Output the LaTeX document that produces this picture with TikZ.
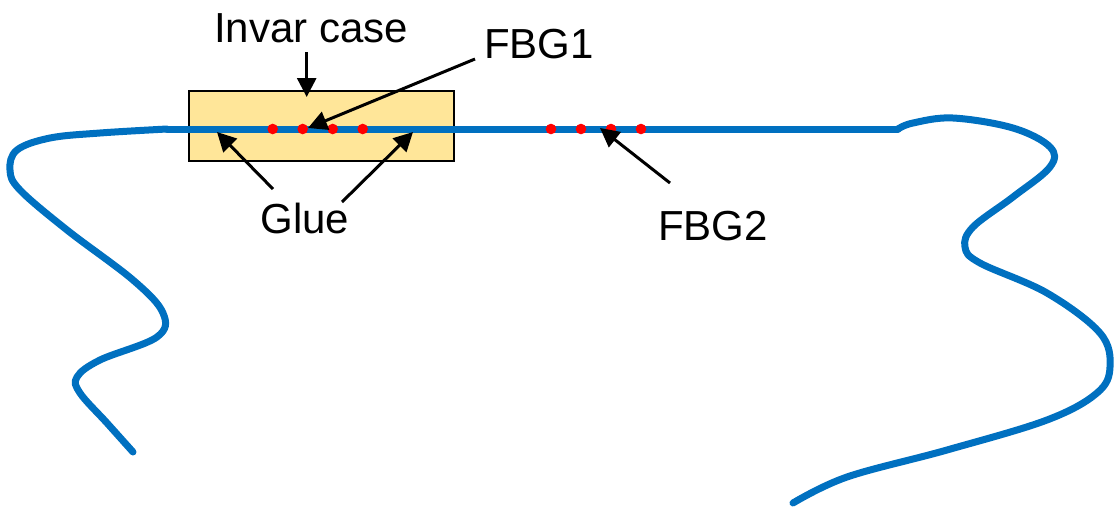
\documentclass[tikz,border=0pt]{standalone}
\usepackage{fontspec}
\setmainfont{Liberation Sans}
\usetikzlibrary{arrows.meta}
\definecolor{fiberblue}{HTML}{0070C0}
\definecolor{casefill}{HTML}{FFE699}
\definecolor{gratingred}{HTML}{FF0000}
\tikzset{
  fiber/.style={draw=fiberblue, line width=7pt, line cap=round, line join=round},
  grating/.style={fill=gratingred},
  pointer/.style={draw=black, line width=3pt, -{Triangle[length=19pt,width=19pt]}},
  label/.style={inner sep=0pt, anchor=base, font=\fontsize{42}{50}\selectfont},
  casebox/.style={draw=black, line width=1.4pt, fill=casefill, inner sep=0pt,
                  minimum width=265pt, minimum height=70pt}
}
\begin{document}
\begin{tikzpicture}[x=1pt, y=-1pt]
  \useasboundingbox (0,0) rectangle (1119,509);

  % Invar housing
  \node[casebox] (case) at (321.5,126) {};

  % optical fibre: straight section plus free loose ends
  \draw[fiber] (167,129) -- (898,129);
  \draw[fiber] plot[smooth, tension=0.6] coordinates {
    (167,129) (100,133) (50,138) (17,150) (10,170) (20,190) (67,230)
    (133,280) (163,313) (157,337) (100,360) (77,377) (80,393) (107,423) (133,452)};
  \draw[fiber] plot[smooth, tension=0.6] coordinates {
    (898,129) (913,123) (953,118) (1013,128) (1050,147) (1050,167) (1013,197)
    (973,227) (965,247) (980,263) (1047,293) (1100,333) (1110,367) (1097,393)
    (1047,420) (947,450) (847,477) (793,503)};

  % Bragg gratings
  \foreach \gx in {272.7,302.7,332.7,362.7,551,581,611,641}
    \fill[grating] (\gx,129) circle (5.3pt);

  % labels
  \node[label] (invar) at (311,42) {Invar case};
  \node[label] (fbga) at (539,58) {FBG1};
  \node[label] (glue) at (305,233) {Glue};
  \node[label] (fbgb) at (713,240) {FBG2};

  % arrow ends
  \coordinate (invartail) at (306.7,52);
  \coordinate (invartip) at (306.7,97);
  \coordinate (fbgatail) at (475,59);
  \coordinate (fbgatip) at (308,128);
  \coordinate (gluelefttail) at (273,189);
  \coordinate (glueleftip) at (217,132);
  \coordinate (gluerighttail) at (342,202);
  \coordinate (gluerighttip) at (413,132);
  \coordinate (fbgbtail) at (670,183);
  \coordinate (fbgbtip) at (600,128);

  \draw[pointer] (invartail) -- (invartip);
  \draw[pointer] (fbgatail) -- (fbgatip);
  \draw[pointer] (gluelefttail) -- (glueleftip);
  \draw[pointer] (gluerighttail) -- (gluerighttip);
  \draw[pointer] (fbgbtail) -- (fbgbtip);
\end{tikzpicture}
\end{document}
